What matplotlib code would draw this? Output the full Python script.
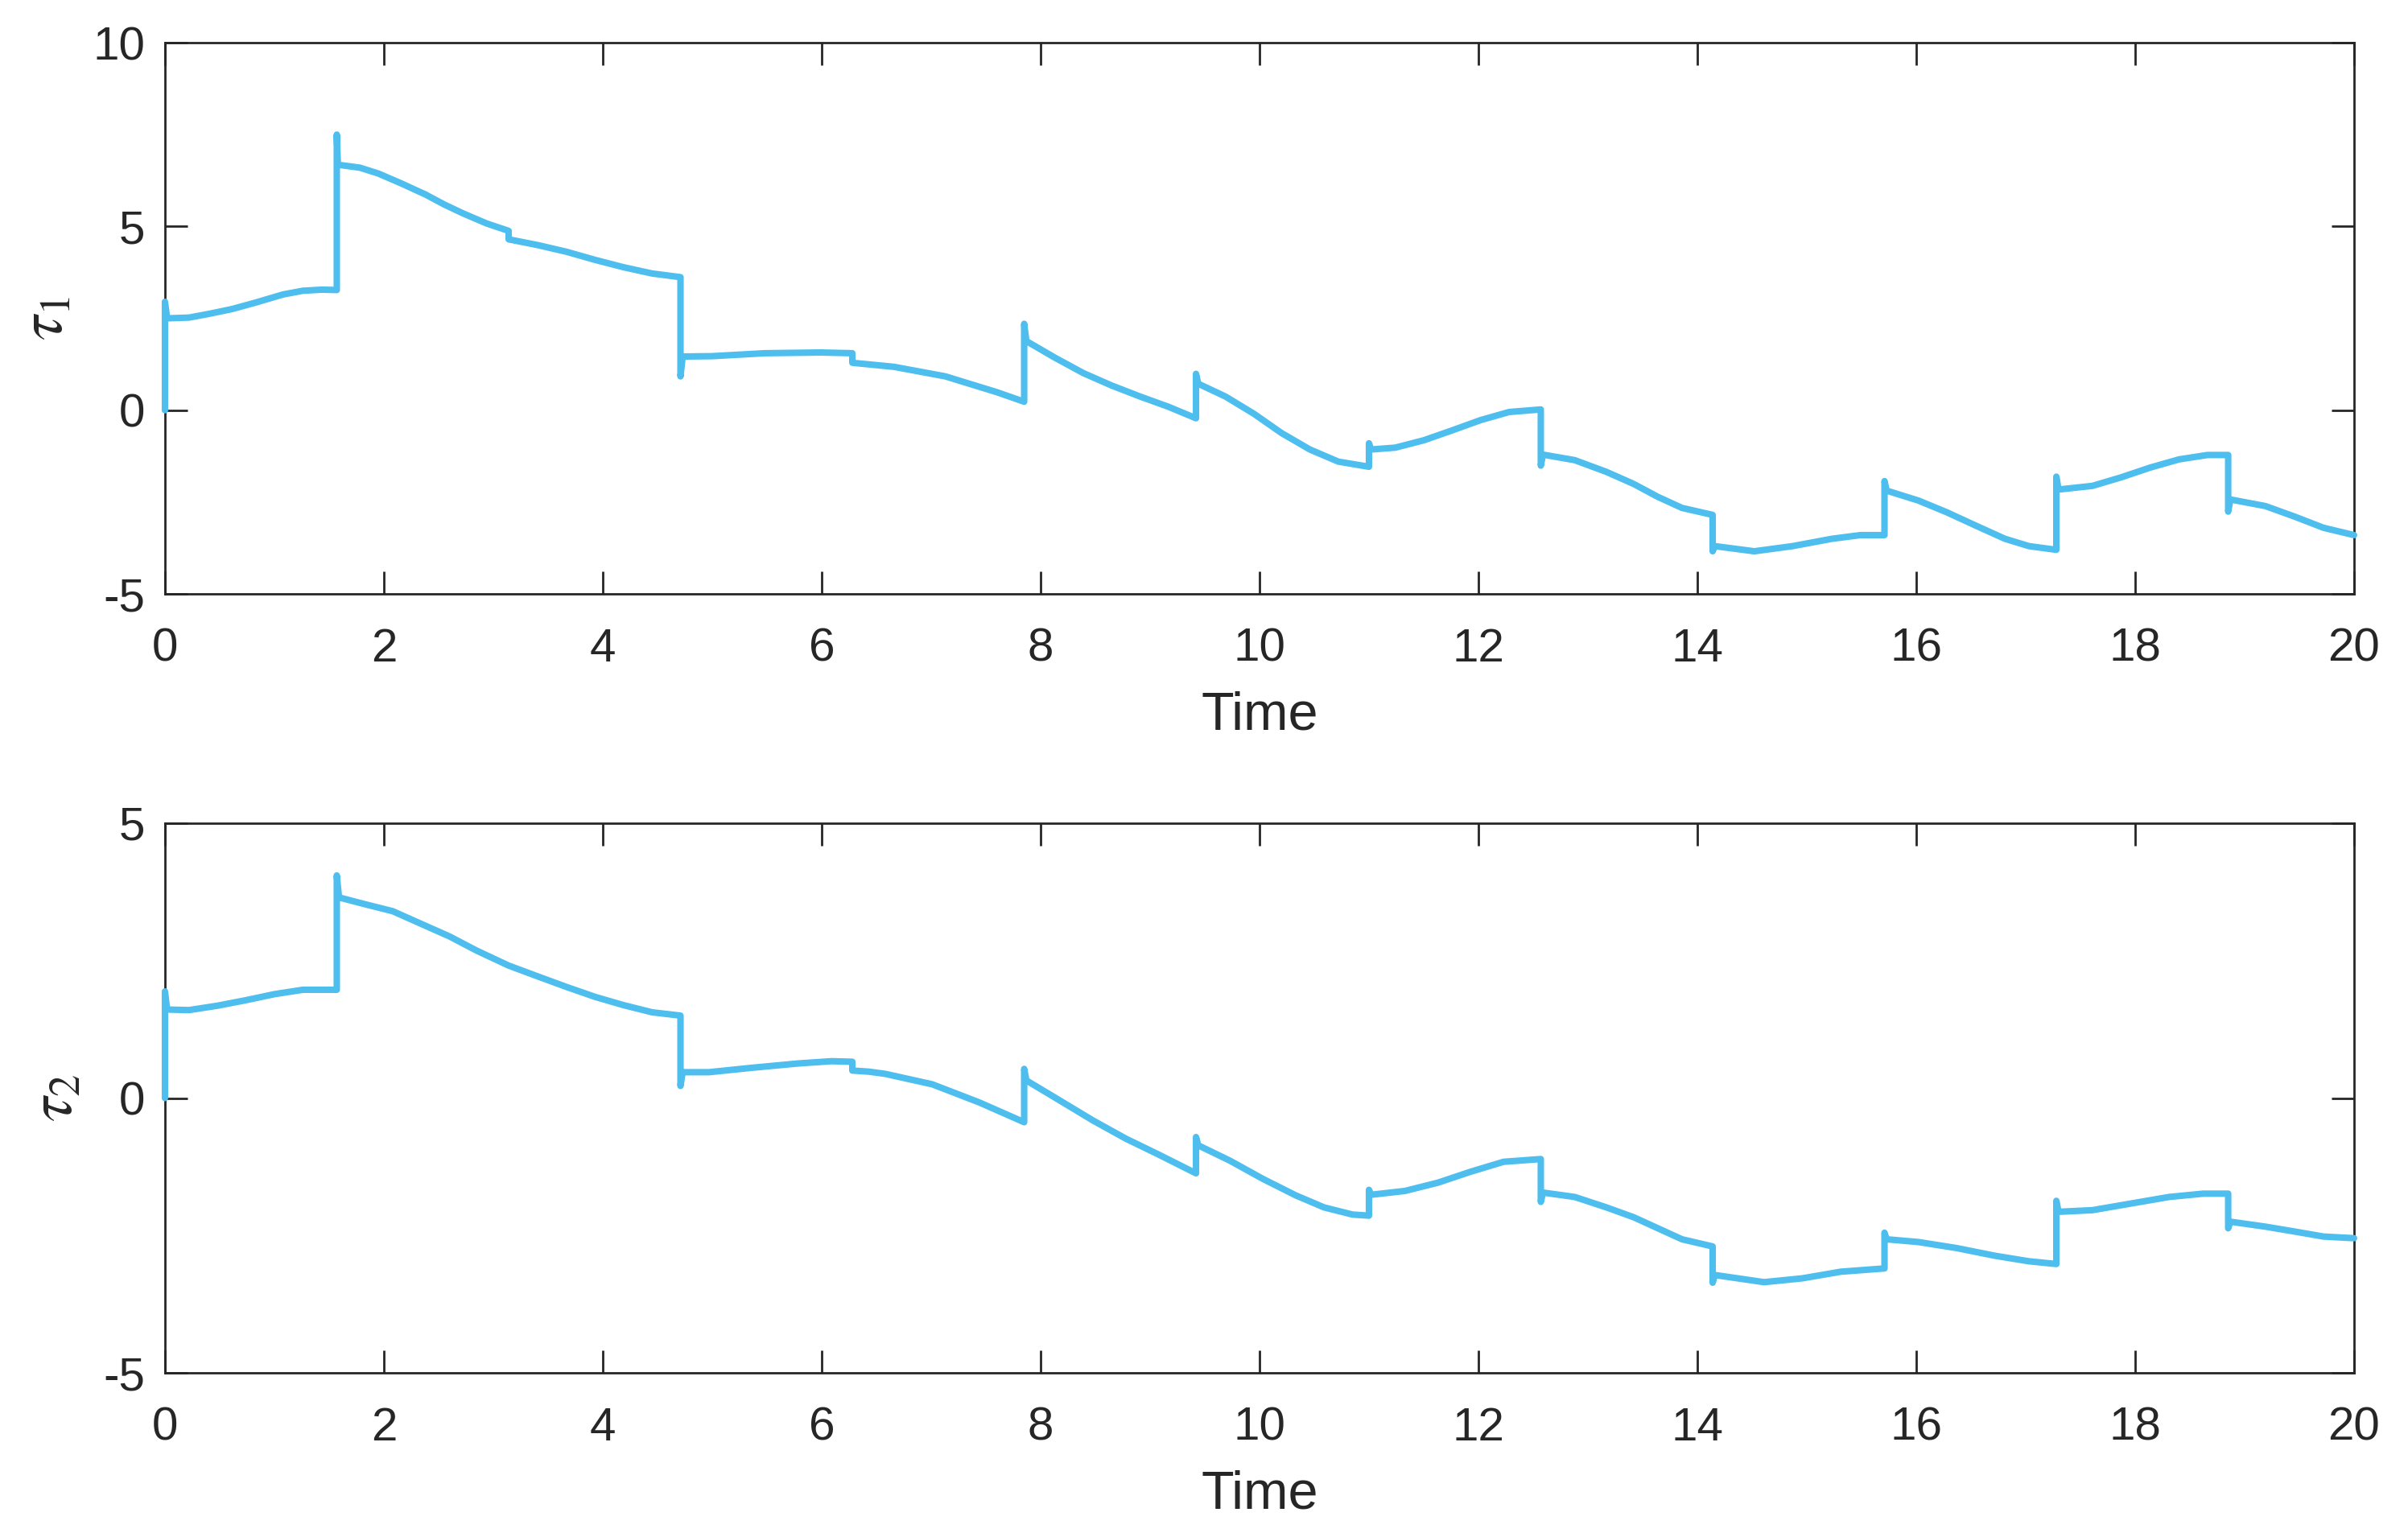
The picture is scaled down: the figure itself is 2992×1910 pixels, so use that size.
import matplotlib.pyplot as plt

# Werte (Sprungstellen bei k*pi/2 als doppelte Zeitpunkte)
t_tau1 = [0, 0, 0.02, 0.22, 0.40, 0.61, 0.83, 1.08, 1.26, 1.43, 1.57,
          1.57, 1.58, 1.78, 1.95, 2.16, 2.38, 2.55, 2.72, 2.94, 3.14,
          3.14, 3.41, 3.67, 3.93, 4.19, 4.45, 4.71,
          4.71, 4.73, 5.00, 5.48, 5.99, 6.28,
          6.28, 6.66, 7.13, 7.60, 7.85,
          7.85, 7.87, 8.13, 8.39, 8.65, 8.91, 9.17, 9.42,
          9.42, 9.44, 9.69, 9.95, 10.20, 10.46, 10.72, 11.00,
          11.00, 11.02, 11.24, 11.50, 11.76, 12.02, 12.28, 12.57,
          12.57, 12.59, 12.88, 13.17, 13.42, 13.64, 13.86, 14.14,
          14.14, 14.16, 14.52, 14.87, 15.23, 15.49, 15.71,
          15.71, 15.73, 16.02, 16.28, 16.55, 16.81, 17.03, 17.28,
          17.28, 17.30, 17.61, 17.87, 18.14, 18.40, 18.66, 18.85,
          18.85, 18.87, 19.19, 19.46, 19.72, 20.00]
tau1 = [0, 2.95, 2.50, 2.52, 2.62, 2.75, 2.93, 3.15, 3.25, 3.28, 3.27,
        7.50, 6.68, 6.60, 6.44, 6.17, 5.87, 5.60, 5.36, 5.08, 4.88,
        4.65, 4.49, 4.31, 4.09, 3.89, 3.72, 3.62,
        0.92, 1.46, 1.47, 1.55, 1.57, 1.55,
        1.29, 1.18, 0.92, 0.49, 0.23,
        2.35, 1.88, 1.43, 1.01, 0.67, 0.37, 0.09, -0.22,
        0.99, 0.72, 0.37, -0.10, -0.62, -1.07, -1.40, -1.54,
        -0.90, -1.07, -1.02, -0.82, -0.55, -0.27, -0.05, 0.02,
        -1.51, -1.21, -1.36, -1.68, -2.01, -2.36, -2.66, -2.85,
        -3.84, -3.70, -3.84, -3.70, -3.50, -3.40, -3.40,
        -1.93, -2.19, -2.46, -2.78, -3.15, -3.50, -3.70, -3.80,
        -1.81, -2.16, -2.06, -1.83, -1.56, -1.34, -1.22, -1.22,
        -2.76, -2.43, -2.61, -2.90, -3.20, -3.40]

t_tau2 = [0, 0, 0.02, 0.22, 0.48, 0.74, 1.00, 1.26, 1.57,
          1.57, 1.59, 1.82, 2.08, 2.34, 2.60, 2.85, 3.14,
          3.41, 3.67, 3.93, 4.19, 4.45, 4.71,
          4.71, 4.73, 4.97, 5.36, 5.79, 6.09, 6.28,
          6.28, 6.43, 6.58, 7.01, 7.44, 7.85,
          7.85, 7.87, 8.18, 8.48, 8.78, 9.08, 9.42,
          9.42, 9.44, 9.73, 10.03, 10.33, 10.59, 10.85, 11.00,
          11.00, 11.02, 11.33, 11.63, 11.93, 12.23, 12.57,
          12.57, 12.59, 12.88, 13.17, 13.42, 13.64, 13.86, 14.14,
          14.14, 14.16, 14.61, 14.96, 15.31, 15.71,
          15.71, 15.73, 16.02, 16.37, 16.72, 17.03, 17.28,
          17.28, 17.30, 17.61, 17.96, 18.31, 18.62, 18.85,
          18.85, 18.87, 19.19, 19.46, 19.72, 20.00]
tau2 = [0, 1.94, 1.61, 1.60, 1.68, 1.78, 1.89, 1.97, 1.97,
        4.05, 3.65, 3.53, 3.40, 3.17, 2.94, 2.68, 2.41,
        2.21, 2.02, 1.84, 1.69, 1.56, 1.50,
        0.22, 0.47, 0.47, 0.55, 0.63, 0.67, 0.66,
        0.50, 0.48, 0.44, 0.25, -0.08, -0.44,
        0.53, 0.32, -0.05, -0.41, -0.74, -1.03, -1.37,
        -0.71, -0.86, -1.14, -1.47, -1.77, -1.99, -2.12, -2.14,
        -1.67, -1.76, -1.69, -1.54, -1.34, -1.16, -1.11,
        -1.89, -1.72, -1.80, -1.99, -2.17, -2.37, -2.57, -2.70,
        -3.36, -3.22, -3.35, -3.28, -3.16, -3.10,
        -2.45, -2.57, -2.62, -2.73, -2.87, -2.97, -3.02,
        -1.87, -2.07, -2.04, -1.92, -1.80, -1.74, -1.74,
        -2.37, -2.25, -2.34, -2.43, -2.52, -2.55]

x_ticks = [0, 2, 4, 6, 8, 10, 12, 14, 16, 18, 20]

plt.rcParams['font.family'] = ['Liberation Sans', 'DejaVu Sans']
plt.rcParams['mathtext.fontset'] = 'stix'
plt.rcParams['axes.unicode_minus'] = False

farbe = '#4DBEEE'
dunkel = '#262626'

fig = plt.figure(figsize=(14.96, 9.55), dpi=200)
ax1 = fig.add_axes([0.0685, 0.6136, 0.9091, 0.3586])
ax2 = fig.add_axes([0.0685, 0.1068, 0.9091, 0.3576])


def achse(ax, t, y, ylim, yticks, ylabel):
    # Linie nicht abschneiden, damit sie bei t=0 auf der Achse liegt wie im Original
    ax.plot(t, y, color=farbe, linewidth=2.9, solid_joinstyle='round',
            solid_capstyle='round', clip_on=False, zorder=3)
    ax.set_xlim(0, 20)
    ax.set_ylim(*ylim)
    ax.set_xticks(x_ticks)
    ax.set_yticks(yticks)
    ax.tick_params(direction='in', top=True, right=True, length=10,
                   width=1.0, colors=dunkel, labelsize=21)
    ax.tick_params(axis='x', pad=15)
    ax.tick_params(axis='y', pad=9)
    for s in ax.spines.values():
        s.set_linewidth(1.0)
        s.set_color(dunkel)
    ax.set_xlabel('Time', fontsize=24, color=dunkel, labelpad=9)
    ax.set_ylabel(ylabel, fontsize=28, color=dunkel, labelpad=8)


achse(ax1, t_tau1, tau1, (-5, 10), [-5, 0, 5, 10], r'$\tau_{\mathit{1}}$')
achse(ax2, t_tau2, tau2, (-5, 5), [-5, 0, 5], r'$\tau_{\mathit{2}}$')

fig.savefig('out.png', dpi=200)
